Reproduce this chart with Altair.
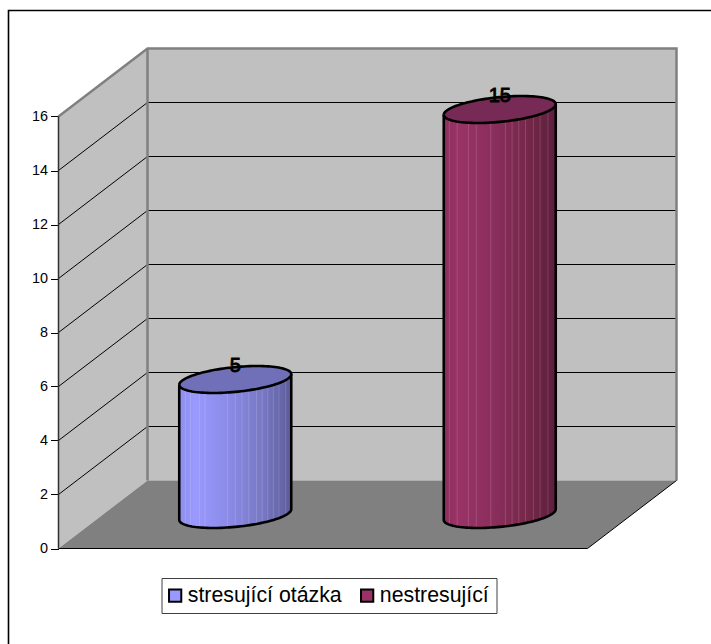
import altair as alt
import numpy as np
import pandas as pd

# Chart values
categories = ["stresující otázka", "nestresující"]
values = [5, 15]
legend_colors = ["#9999FF", "#993366"]
tick_values = [0, 2, 4, 6, 8, 10, 12, 14, 16]
grid_values = [2, 4, 6, 8, 10, 12, 14]
axis_max = 16

# Oblique projection: one category slot and one value unit in pixels,
# plus the screen shift of the full floor depth.
W, H = 711, 644
ORIGIN_X, ORIGIN_Y = 58.5, 548.5
SLOT_PX, UNIT_PX = 264.5, 27.0
DEPTH_DX, DEPTH_DY = 89.0, 68.0


def px(slot, depth=0.0):
    return slot + depth * DEPTH_DX / SLOT_PX


def py(value, depth=0.0):
    return value + depth * DEPTH_DY / UNIT_PX


x_scale = alt.Scale(domain=[-ORIGIN_X / SLOT_PX, (W - ORIGIN_X) / SLOT_PX], range=[0, W], nice=False, zero=False)
y_scale = alt.Scale(domain=[(ORIGIN_Y - H) / UNIT_PX, ORIGIN_Y / UNIT_PX], range=[H, 0], nice=False, zero=False)

X = alt.X("x:Q", scale=x_scale, axis=None)
Y = alt.Y("y:Q", scale=y_scale, axis=None)
Y2 = alt.Y2("y2:Q")
X2 = alt.X2("x2:Q")


def wall_band(rows, fill):
    return alt.Chart(pd.DataFrame(rows)).mark_area(color=fill, interpolate="linear").encode(x=X, y=Y, y2=Y2)


def polyline(rows, color, width):
    return alt.Chart(pd.DataFrame(rows)).mark_line(color=color, strokeWidth=width, clip=False).encode(
        x=X, y=Y, order=alt.Order("i:Q"), detail="g:N"
    )


def path_rows(points, group=0):
    return [{"x": p[0], "y": p[1], "i": i, "g": group} for i, p in enumerate(points)]


# Left wall and back wall
left_wall = wall_band(
    [
        {"x": px(0, 0), "y": py(0, 0), "y2": py(axis_max, 0)},
        {"x": px(0, 1), "y": py(0, 1), "y2": py(axis_max, 1)},
    ],
    "#C0C0C0",
)
back_wall = wall_band(
    [
        {"x": px(0, 1), "y": py(0, 1), "y2": py(axis_max, 1)},
        {"x": px(2, 1), "y": py(0, 1), "y2": py(axis_max, 1)},
    ],
    "#C0C0C0",
)
# Floor
floor = alt.Chart(
    pd.DataFrame(
        [
            {"y": py(0, 0), "x": px(0, 0), "x2": px(2, 0)},
            {"y": py(0, 1), "x": px(0, 1), "x2": px(2, 1)},
        ]
    )
).mark_area(color="#808080", orient="horizontal").encode(x=X, x2=X2, y=Y)

# Grid lines run up the left wall and across the back wall
grid_rows = []
for k, v in enumerate(grid_values):
    grid_rows += path_rows([(px(0, 0), py(v, 0)), (px(0, 1), py(v, 1)), (px(2, 1), py(v, 1))], k)
grid = polyline(grid_rows, "#000000", 1)

# Grey frame of the walls
frame_rows = path_rows([(px(0, 0), py(axis_max, 0)), (px(0, 1), py(axis_max, 1)), (px(2, 1), py(axis_max, 1)), (px(2, 1), py(0, 1))], 0)
frame_rows += path_rows([(px(0, 1), py(0, 1)), (px(0, 1), py(axis_max, 1))], 1)
frame = polyline(frame_rows, "#808080", 2.5)

# Front edges of the floor and the value axis line
edges = polyline(
    path_rows([(px(0, 0), py(0, 0)), (px(2, 0), py(0, 0)), (px(2, 1), py(0, 1))], 0), "#000000", 1
)
axis_line = polyline(path_rows([(px(0, 0), py(0, 0)), (px(0, 0), py(axis_max, 0))], 0), "#303030", 1.5)

# Cylinders: a sheared ellipse for each end cap and a gradient-filled body
RADIUS = 56.0 / SLOT_PX
SKEW = 5.3 / UNIT_PX
MINOR = 12.4 / UNIT_PX
BASE_DEPTH = 0.5
samples = np.cos(np.linspace(np.pi, 0, 61))

body_gradients = [
    [("#8E8EEE", 0), ("#9999FF", 0.14), ("#8A8AE6", 0.45), ("#7777C4", 0.75), ("#5C5C99", 1)],
    [("#8E2F5E", 0), ("#993366", 0.14), ("#8A2E5C", 0.45), ("#752749", 0.75), ("#5C1F3D", 1)],
]
cap_colors = ["#7070B8", "#762A55"]
stripe_fracs = [
    [0.054, 0.1, 0.18, 0.23, 0.43, 0.5, 0.56, 0.62, 0.69, 0.74, 0.79, 0.84, 0.89, 0.95],
    [0.05, 0.12, 0.22, 0.29, 0.42, 0.55, 0.61, 0.67, 0.73, 0.8, 0.86, 0.93],
]

cylinders = []
for idx, value in enumerate(values):
    cx = px(idx + 0.5, BASE_DEPTH)
    base = py(0, BASE_DEPTH)
    top = py(value, BASE_DEPTH)

    def upper(u, c):
        return c - SKEW * -u + MINOR * np.sqrt(1 - u * u)

    def lower(u, c):
        return c + SKEW * u - MINOR * np.sqrt(1 - u * u)

    xs = cx + RADIUS * samples
    body = alt.Chart(
        pd.DataFrame({"x": xs, "y": lower(samples, base), "y2": top + SKEW * samples})
    ).mark_area(
        color=alt.Gradient(
            gradient="linear",
            stops=[alt.GradientStop(color=c, offset=o) for c, o in body_gradients[idx]],
            x1=0, x2=1, y1=0, y2=0,
        )
    ).encode(x=X, y=Y, y2=Y2)

    fracs = np.array(stripe_fracs[idx])
    us = fracs * 2 - 1
    stripes = alt.Chart(
        pd.DataFrame({"x": cx + RADIUS * us, "y": lower(us, base), "y2": lower(us, top)})
    ).mark_rule(color="#FFFFFF", opacity=0.15, strokeWidth=1).encode(x=X, y=Y, y2=Y2)

    cap = alt.Chart(
        pd.DataFrame({"x": xs, "y": lower(samples, top), "y2": upper(samples, top)})
    ).mark_area(color=cap_colors[idx]).encode(x=X, y=Y, y2=Y2)

    outline_pts = [(cx + RADIUS * -1, top - SKEW)]
    outline_pts += list(zip(xs, lower(samples, base)))
    outline_pts += [(cx + RADIUS, top + SKEW)]
    body_line = polyline(path_rows(outline_pts, 0), "#000000", 2.6)
    cap_pts = list(zip(xs, lower(samples, top))) + list(zip(xs[::-1], upper(samples, top)[::-1]))
    cap_line = polyline(path_rows(cap_pts, 0), "#000000", 2.6)
    cylinders += [body, stripes, cap, body_line, cap_line]

# Value labels above the cylinders
labels = alt.Chart(
    pd.DataFrame(
        {
            "x": [px(i + 0.5, BASE_DEPTH) for i in range(len(values))],
            "y": [py(v, BASE_DEPTH) for v in values],
            "t": [str(v) for v in values],
        }
    )
).mark_text(
    font="Liberation Sans", fontSize=20, color="#000000", dy=-14, baseline="middle", align="center",
    stroke="#000000", strokeWidth=0.9,
).encode(x=X, y=Y, text="t:N")

# Value axis, with the tick labels left of the front wall edge
axis_layer = alt.Chart(pd.DataFrame({"x": [0.0], "y": [0.0]})).mark_point(opacity=0).encode(
    x=X,
    y=alt.Y(
        "y:Q",
        scale=y_scale,
        title=None,
        axis=alt.Axis(
            values=tick_values,
            offset=-ORIGIN_X,
            domain=False,
            grid=False,
            tickColor="#000000",
            tickSize=8,
            tickWidth=1,
            labelColor="#000000",
            labelFont="Liberation Sans",
            labelFontSize=14.4,
            labelPadding=3,
            format="d",
        ),
    ),
)

# Legend
legend_layer = alt.Chart(pd.DataFrame({"x": [0.0, 0.0], "y": [0.0, 0.0], "c": categories})).mark_square(size=0).encode(
    x=X,
    y=Y,
    color=alt.Color(
        "c:N",
        scale=alt.Scale(domain=categories, range=legend_colors),
        legend=alt.Legend(
            title=None,
            orient="none",
            legendX=161.5,
            legendY=578,
            direction="horizontal",
            columns=2,
            gridAlign="each",
            columnPadding=14,
            padding=7,
            fillColor="#FFFFFF",
            strokeColor="#404040",
            symbolType="square",
            symbolSize=150,
            symbolStrokeWidth=2,
            symbolStrokeColor="#000000",
            symbolOpacity=1,
            symbolOffset=-4,
            labelFont="Liberation Sans",
            labelFontSize=21.3,
            labelColor="#000000",
            labelOffset=2,
            labelLimit=400,
        ),
    ),
)

# Chart frame: only the top and left edges are drawn
FRAME_LEFT = (8.5 - ORIGIN_X) / SLOT_PX
FRAME_TOP = (ORIGIN_Y - 10.5) / UNIT_PX
FRAME_RIGHT = (W - ORIGIN_X) / SLOT_PX
FRAME_BOTTOM = (ORIGIN_Y - H) / UNIT_PX
border = polyline(
    path_rows([(FRAME_LEFT, FRAME_BOTTOM), (FRAME_LEFT, FRAME_TOP), (FRAME_RIGHT, FRAME_TOP)], 0), "#000000", 1.6
)

chart = alt.layer(
    axis_layer, left_wall, back_wall, floor, grid, frame, edges, axis_line, *cylinders, labels, legend_layer, border
).resolve_axis(y="independent").properties(
    width=W, height=H, padding=0, autosize=alt.AutoSizeParams(type="none")
).configure_view(stroke=None)

chart.save("out.html", embed_options={"renderer": "svg", "actions": False})
